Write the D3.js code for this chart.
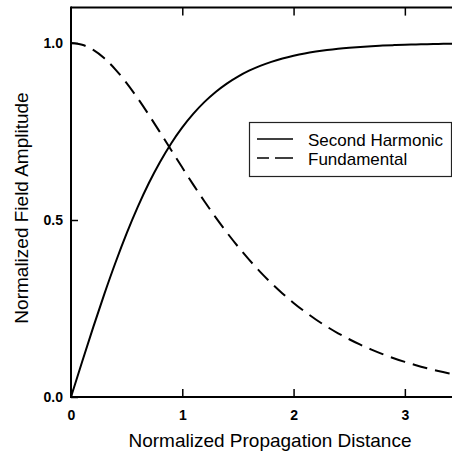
<!DOCTYPE html>
<html><head><meta charset="utf-8">
<script src="https://cdn.jsdelivr.net/npm/d3@7"></script>
<style>body{margin:0;background:#fff}svg{display:block}text{font-family:"Liberation Sans",Arial,sans-serif;fill:#000}</style>
</head><body><svg id="c" width="452" height="453"></svg>
<script>
const distance = [0,0.1,0.2,0.3,0.4,0.5,0.6,0.7,0.8,0.9,1.0,1.1,1.2,1.3,1.4,1.5,1.6,1.7,1.8,1.9,2.0,2.1,2.2,2.3,2.4,2.5,2.6,2.7,2.8,2.9,3.0,3.1,3.2,3.3,3.4,3.5];
const secondHarmonic = [0,0.0997,0.1974,0.2913,0.3799,0.4621,0.5370,0.6044,0.6640,0.7163,0.7616,0.8005,0.8337,0.8617,0.8854,0.9051,0.9217,0.9354,0.9468,0.9562,0.9640,0.9705,0.9757,0.9801,0.9837,0.9866,0.9890,0.9910,0.9926,0.9940,0.9951,0.9959,0.9967,0.9973,0.9978,0.9982];
const fundamental = [1,0.9950,0.9803,0.9566,0.9250,0.8868,0.8436,0.7967,0.7477,0.6978,0.6481,0.5993,0.5523,0.5074,0.4649,0.4251,0.3880,0.3536,0.3218,0.2926,0.2658,0.2413,0.2190,0.1986,0.1800,0.1631,0.1477,0.1338,0.1211,0.1096,0.0993,0.0898,0.0813,0.0735,0.0666,0.0602];
const xTicks = [0,1,2,3];
const yTicks = [0,0.5,1.0];
const seriesNames = ["Second Harmonic","Fundamental"];

const svg = d3.select("#c");
const x = d3.scaleLinear().domain([0,3.5]).range([71,460.5]);
const y = d3.scaleLinear().domain([0,1.1]).range([397,7.6]);

svg.append("defs").append("clipPath").attr("id","cp").append("rect")
  .attr("x",71).attr("y",7).attr("width",390).attr("height",391);

const line = d3.line().x((d,i)=>x(distance[i])).y(d=>y(d)).curve(d3.curveMonotoneX);
const plot = svg.append("g").attr("clip-path","url(#cp)");
plot.append("path").datum(secondHarmonic).attr("d",line).attr("fill","none").attr("stroke","#000").attr("stroke-width",2);
plot.append("path").datum(fundamental).attr("d",line).attr("fill","none").attr("stroke","#000").attr("stroke-width",2).attr("stroke-dasharray","15,8");

// frame
svg.append("path").attr("d",`M${x(0)},${y(1.1)}H${x(3.5)}`).attr("stroke","#000").attr("stroke-width",2);
svg.append("path").attr("d",`M${x(0)},${y(1.1)-1}V${y(0)+1}`).attr("stroke","#000").attr("stroke-width",2);
svg.append("path").attr("d",`M${x(0)-1},${y(0)}H${x(3.5)}`).attr("stroke","#000").attr("stroke-width",2);

// axes
const xb = svg.append("g").attr("transform",`translate(0,${y(0)})`)
  .call(d3.axisBottom(x).tickValues(xTicks).tickSize(-8).tickPadding(13).tickFormat(d3.format("d")));
xb.select(".domain").remove();
const xt = svg.append("g").attr("transform",`translate(0,${y(1.1)})`)
  .call(d3.axisTop(x).tickValues(xTicks.slice(1)).tickSize(-8).tickFormat(""));
xt.select(".domain").remove();
const yl = svg.append("g").attr("transform",`translate(${x(0)},0)`)
  .call(d3.axisLeft(y).tickValues(yTicks).tickSize(-7).tickPadding(8).tickFormat(d3.format(".1f")));
yl.select(".domain").remove();
svg.selectAll(".tick line").attr("stroke","#000").attr("stroke-width",1.5);
svg.selectAll(".tick text").attr("font-size",14).attr("font-weight","bold").attr("font-family","Liberation Sans, Arial, sans-serif").attr("fill","#000");

// titles
svg.append("text").attr("x",270).attr("y",447).attr("text-anchor","middle").attr("font-size",19).text("Normalized Propagation Distance");
svg.append("text").attr("transform","translate(28,208) rotate(-90)").attr("text-anchor","middle").attr("font-size",19).text("Normalized Field Amplitude");

// legend
const lg = svg.append("g");
lg.append("rect").attr("x",249.5).attr("y",122.5).attr("width",202).attr("height",54).attr("fill","#fff").attr("stroke","#222").attr("stroke-width",1.2);
const dashes = [null,"12,6,18"];
seriesNames.forEach((n,i)=>{
  const yy = 139 + i*19;
  lg.append("line").attr("x1",257).attr("x2",293).attr("y1",yy).attr("y2",yy).attr("stroke","#000").attr("stroke-width",1.6).attr("stroke-dasharray",dashes[i]);
  lg.append("text").attr("x",308).attr("y",yy+7).attr("font-size",17).text(n);
});
</script></body></html>
